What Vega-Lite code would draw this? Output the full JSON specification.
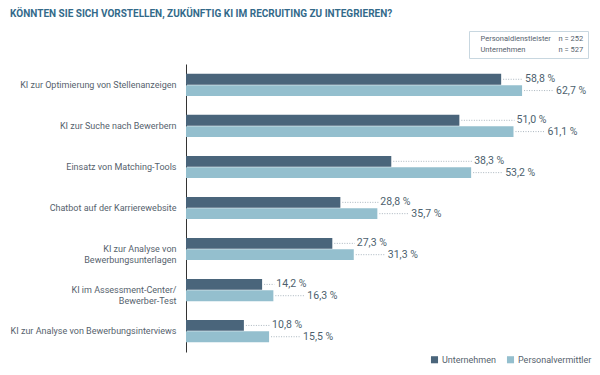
{
  "$schema": "https://vega.github.io/schema/vega-lite/v6.json",
  "width": 402,
  "height": 288,
  "padding": {"left": 10, "top": 8, "right": 5, "bottom": 5},
  "title": {
    "text": "KÖNNTEN SIE SICH VORSTELLEN, ZUKÜNFTIG KI IM RECRUITING ZU INTEGRIEREN?",
    "anchor": "start",
    "frame": "bounds",
    "fontSize": 10,
    "fontWeight": "bold",
    "color": "#336a8a",
    "offset": 12
  },
  "datasets": {
    "main": [
      {"cat": "KI zur Optimierung von Stellenanzeigen", "series": "Unternehmen", "value": 58.8},
      {"cat": "KI zur Optimierung von Stellenanzeigen", "series": "Personalvermittler", "value": 62.7},
      {"cat": "KI zur Suche nach Bewerbern", "series": "Unternehmen", "value": 51.0},
      {"cat": "KI zur Suche nach Bewerbern", "series": "Personalvermittler", "value": 61.1},
      {"cat": "Einsatz von Matching-Tools", "series": "Unternehmen", "value": 38.3},
      {"cat": "Einsatz von Matching-Tools", "series": "Personalvermittler", "value": 53.2},
      {"cat": "Chatbot auf der Karrierewebsite", "series": "Unternehmen", "value": 28.8},
      {"cat": "Chatbot auf der Karrierewebsite", "series": "Personalvermittler", "value": 35.7},
      {"cat": "KI zur Analyse von\nBewerbungsunterlagen", "series": "Unternehmen", "value": 27.3},
      {"cat": "KI zur Analyse von\nBewerbungsunterlagen", "series": "Personalvermittler", "value": 31.3},
      {"cat": "KI im Assessment-Center/\nBewerber-Test", "series": "Unternehmen", "value": 14.2},
      {"cat": "KI im Assessment-Center/\nBewerber-Test", "series": "Personalvermittler", "value": 16.3},
      {"cat": "KI zur Analyse von Bewerbungsinterviews", "series": "Unternehmen", "value": 10.8},
      {"cat": "KI zur Analyse von Bewerbungsinterviews", "series": "Personalvermittler", "value": 15.5}
    ],
    "nbox": [
      {"lbl": "Personaldienstleister"},
      {"lbl": "Unternehmen"},
      {"lbl": "n = 252"},
      {"lbl": "n = 527"}
    ]
  },
  "layer": [
    {
      "data": {"name": "main"},
      "mark": {"type": "bar"},
      "encoding": {
        "y": {
          "field": "cat", "type": "nominal", "sort": null,
          "scale": {"paddingInner": 0.46, "paddingOuter": 0.24},
          "axis": {
            "title": null, "ticks": false, "labelPadding": 10,
            "labelExpr": "split(datum.label, '\\n')",
            "labelFontSize": 9, "labelColor": "#56626d", "labelLineHeight": 11, "labelLimit": 250,
            "domainColor": "#333333", "domainWidth": 1
          }
        },
        "yOffset": {
          "field": "series", "type": "nominal",
          "scale": {"domain": ["Unternehmen", "Personalvermittler"], "paddingInner": 0.04}
        },
        "x": {
          "field": "value", "type": "quantitative",
          "scale": {"domain": [0, 75], "nice": false},
          "axis": null
        },
        "color": {
          "field": "series", "type": "nominal",
          "scale": {"domain": ["Unternehmen", "Personalvermittler"], "range": ["#4a657b", "#94bfce"]},
          "legend": {
            "orient": "none", "legendX": 244, "legendY": 291,
            "direction": "horizontal", "title": null,
            "symbolType": "square", "symbolSize": 50, "symbolStrokeWidth": 0,
            "labelFontSize": 9, "labelColor": "#56626d", "columnPadding": 10, "labelOffset": 3
          }
        }
      }
    },
    {
      "data": {"name": "main"},
      "transform": [
        {"joinaggregate": [{"op": "max", "field": "value", "as": "maxv"}], "groupby": ["cat"]},
        {"filter": "datum.series === 'Unternehmen'"}
      ],
      "mark": {"type": "rule", "strokeDash": [1, 1.5], "color": "#aab5be", "strokeWidth": 1, "xOffset": 2, "x2Offset": 1},
      "encoding": {
        "y": {"field": "cat", "type": "nominal", "sort": null},
        "yOffset": {"field": "series", "type": "nominal"},
        "x": {"field": "value", "type": "quantitative"},
        "x2": {"field": "maxv"}
      }
    },
    {
      "data": {"name": "main"},
      "transform": [
        {"filter": "datum.series === 'Personalvermittler'"}
      ],
      "mark": {"type": "rule", "strokeDash": [1, 1.5], "color": "#aab5be", "strokeWidth": 1, "xOffset": 2, "x2Offset": 31},
      "encoding": {
        "y": {"field": "cat", "type": "nominal", "sort": null},
        "yOffset": {"field": "series", "type": "nominal"},
        "x": {"field": "value", "type": "quantitative"},
        "x2": {"field": "value"}
      }
    },
    {
      "data": {"name": "main"},
      "transform": [
        {"joinaggregate": [{"op": "max", "field": "value", "as": "maxv"}], "groupby": ["cat"]},
        {"filter": "datum.series === 'Unternehmen'"},
        {"calculate": "replace(format(datum.value, '.1f'), '.', ',') + ' %'", "as": "lbl"}
      ],
      "mark": {"type": "text", "align": "left", "baseline": "middle", "dx": 3, "fontSize": 10.5, "color": "#4d5f6e"},
      "encoding": {
        "y": {"field": "cat", "type": "nominal", "sort": null},
        "yOffset": {"field": "series", "type": "nominal"},
        "x": {"field": "maxv", "type": "quantitative"},
        "text": {"field": "lbl"}
      }
    },
    {
      "data": {"name": "main"},
      "transform": [
        {"filter": "datum.series === 'Personalvermittler'"},
        {"calculate": "replace(format(datum.value, '.1f'), '.', ',') + ' %'", "as": "lbl"}
      ],
      "mark": {"type": "text", "align": "left", "baseline": "middle", "dx": 34, "fontSize": 10.5, "color": "#4d5f6e"},
      "encoding": {
        "y": {"field": "cat", "type": "nominal", "sort": null},
        "yOffset": {"field": "series", "type": "nominal"},
        "x": {"field": "value", "type": "quantitative"},
        "text": {"field": "lbl"}
      }
    },
    {
      "data": {"name": "nbox"},
      "mark": {"type": "point", "opacity": 0},
      "encoding": {
        "shape": {
          "field": "lbl", "type": "nominal",
          "scale": {"domain": ["Personaldienstleister", "Unternehmen", "n = 252", "n = 527"]},
          "legend": {
            "orient": "none", "legendX": 283, "legendY": -33,
            "title": null, "columns": 2,
            "symbolSize": 0, "symbolOpacity": 0, "symbolStrokeWidth": 0, "symbolStrokeColor": "transparent",
            "labelOffset": 0, "labelFontSize": 7.5, "labelColor": "#56626d",
            "strokeColor": "#c8d7e0", "padding": 4, "rowPadding": 2, "columnPadding": 0
          }
        }
      }
    }
  ],
  "config": {
    "font": "Roboto, sans-serif",
    "view": {"stroke": null}
  }
}
